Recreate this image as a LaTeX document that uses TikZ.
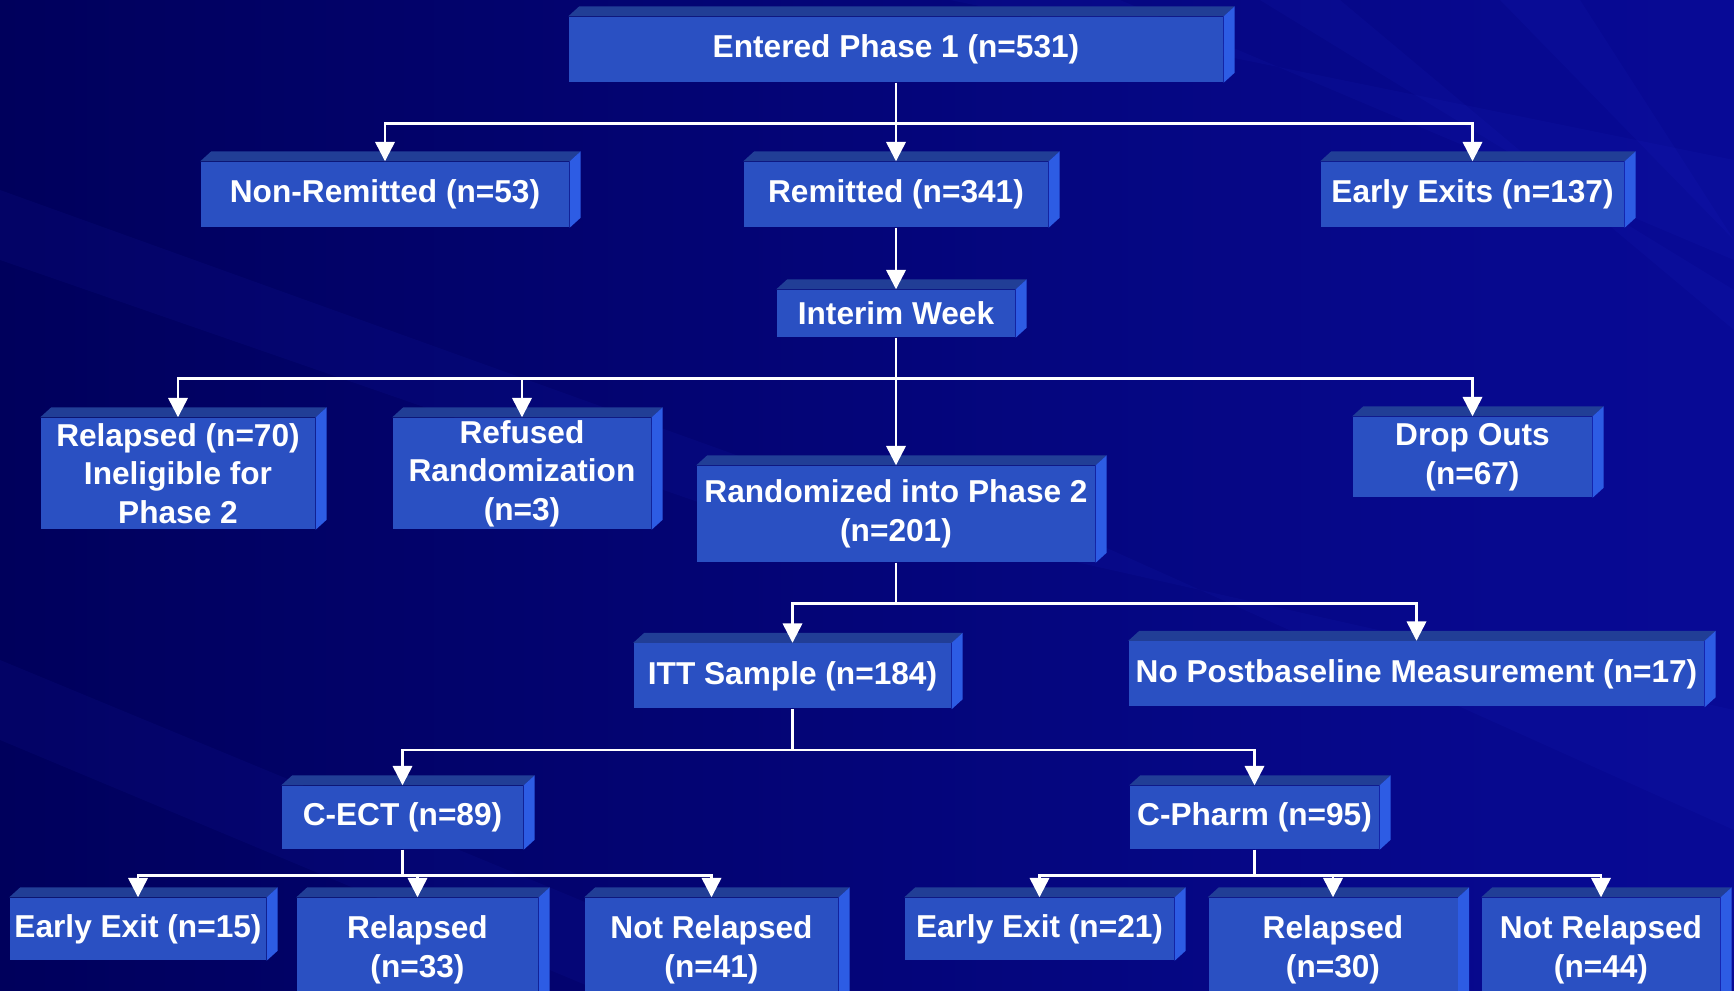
\documentclass[tikz,border=0pt]{standalone}
\usepackage{fontspec}
\setmainfont{Liberation Sans}
\usetikzlibrary{arrows.meta}

\definecolor{bgdark}{RGB}{0,0,92}
\definecolor{bglight}{RGB}{8,10,150}
\definecolor{streakblue}{RGB}{40,50,220}
\definecolor{boxfront}{RGB}{42,80,194}
\definecolor{boxtop}{RGB}{33,62,150}
\definecolor{boxside}{RGB}{45,92,228}

% top and right faces of a box node
\newcommand{\bevel}[1]{%
  \fill[boxtop] (#1.north west) -- ++(0.11,0.1) -- ([shift={(0.11,0.1)}]#1.north east) -- (#1.north east) -- cycle;
  \fill[boxside] (#1.north east) -- ++(0.11,0.1) -- ([shift={(0.11,0.1)}]#1.south east) -- (#1.south east) -- cycle;}

\begin{document}
\begin{tikzpicture}[
    box/.style={fill=boxfront, text=white, font=\fontsize{9}{11}\selectfont\bfseries,
      align=center, inner sep=0pt, minimum height=0.65cm},
    link/.style={white, line width=0.7pt},
    arr/.style={link, -{Triangle[width=5.5pt,length=5.5pt]}},
    streak/.style={fill=streakblue, opacity=0.08}]
    \useasboundingbox (0,0) rectangle (17.34,-9.91);
    \clip (0,0) rectangle (17.34,-9.91);
    \shade[left color=bgdark, right color=bglight] (0,0) rectangle (17.34,-9.91);
    % background streaks
    \fill[streak] (9.5,0) -- (11.2,0) -- (17.34,-2.6) -- (17.34,-1.6) -- cycle;
    \fill[streak] (12.6,0) -- (13.4,0) -- (17.34,-3.3) -- (17.34,-2.9) -- cycle;
    \fill[streak] (15.0,0) -- (15.8,0) -- (17.34,-2.4) -- cycle;
    \fill[streak] (0,-1.9) -- (0,-2.6) -- (7.5,-5.2) -- (7.5,-4.6) -- cycle;
    \fill[streak] (8,-5.0) -- (10,-5.0) -- (17.34,-8.3) -- (17.34,-7.1) -- cycle;
    \fill[streak] (0,-6.6) -- (0,-7.4) -- (6,-9.91) -- (8,-9.91) -- cycle;

    % boxes
    \node[box, minimum width=6.54cm] (entered) at (8.96,-0.495) {Entered Phase 1 (n=531)};
    \node[box, minimum width=3.68cm] (nonrem) at (3.85,-1.945) {Non-Remitted (n=53)};
    \node[box, minimum width=3.04cm] (remitted) at (8.96,-1.945) {Remitted (n=341)};
    \node[box, minimum width=3.03cm] (exits) at (14.725,-1.945) {Early Exits (n=137)};
    \node[box, minimum width=2.38cm, minimum height=0.47cm] (interim) at (8.96,-3.135) {Interim Week};
    \node[box, minimum width=2.74cm, minimum height=1.11cm] (relapsed) at (1.78,-4.735) {Relapsed (n=70)\\Ineligible for\\Phase 2};
    \node[box, minimum width=2.58cm, minimum height=1.11cm] (refused) at (5.22,-4.735) {Refused\\Randomization\\(n=3)};
    \node[box, minimum width=3.98cm, minimum height=0.96cm] (randomized) at (8.96,-5.14) {Randomized into Phase 2\\(n=201)};
    \node[box, minimum width=2.39cm, minimum height=0.80cm] (dropouts) at (14.725,-4.57) {Drop Outs\\(n=67)};
    \node[box, minimum width=3.17cm] (itt) at (7.925,-6.76) {ITT Sample (n=184)};
    \node[box, minimum width=5.75cm] (nopost) at (14.165,-6.74) {No Postbaseline Measurement (n=17)};
    \node[box, minimum width=2.41cm, minimum height=0.63cm] (cect) at (4.025,-8.175) {C-ECT (n=89)};
    \node[box, minimum width=2.49cm, minimum height=0.63cm] (cpharm) at (12.545,-8.175) {C-Pharm (n=95)};
    \node[box, minimum width=2.56cm, minimum height=0.62cm] (exitecT) at (1.38,-9.29) {Early Exit (n=15)};
    \node[box, minimum width=2.41cm, minimum height=1.04cm] (relecT) at (4.175,-9.50) {Relapsed\\(n=33)};
    \node[box, minimum width=2.53cm, minimum height=1.04cm] (notrelecT) at (7.115,-9.50) {Not Relapsed\\(n=41)};
    \node[box, minimum width=2.69cm, minimum height=0.62cm] (exitph) at (10.395,-9.29) {Early Exit (n=21)};
    \node[box, minimum width=2.49cm, minimum height=1.04cm] (relph) at (13.33,-9.50) {Relapsed\\(n=30)};
    \node[box, minimum width=2.38cm, minimum height=1.04cm] (notrelph) at (16.01,-9.50) {Not Relapsed\\(n=44)};
    \foreach \b in {entered,nonrem,remitted,exits,interim,relapsed,refused,randomized,dropouts,
      itt,nopost,cect,cpharm,exitecT,relecT,notrelecT,exitph,relph,notrelph}
      {\bevel{\b}}

    % connectors
    \draw[link] (entered.south) -- ++(0,-0.41) coordinate (j1);
    \draw[arr] (j1) -- (remitted.north);
    \foreach \n in {nonrem,exits} \draw[arr] (j1) -| (\n.north);
    \draw[arr] (remitted.south) -- (interim.north);
    \draw[link] (interim.south) -- ++(0,-0.41) coordinate (j2);
    \draw[arr] (j2) -- (randomized.north);
    \foreach \n in {relapsed,refused,dropouts} \draw[arr] (j2) -| (\n.north);
    \draw[link] (randomized.south) -- ++(0,-0.41) coordinate (j3);
    \foreach \n in {itt,nopost} \draw[arr] (j3) -| (\n.north);
    \draw[link] (itt.south) -- ++(0,-0.41) coordinate (j4);
    \foreach \n in {cect,cpharm} \draw[arr] (j4) -| (\n.north);
    \draw[link] (cect.south) -- ++(0,-0.26) coordinate (j5);
    \foreach \n in {exitecT,relecT,notrelecT} \draw[arr] (j5) -| (\n.north);
    \draw[link] (cpharm.south) -- ++(0,-0.26) coordinate (j6);
    \foreach \n in {exitph,relph,notrelph} \draw[arr] (j6) -| (\n.north);
\end{tikzpicture}
\end{document}
